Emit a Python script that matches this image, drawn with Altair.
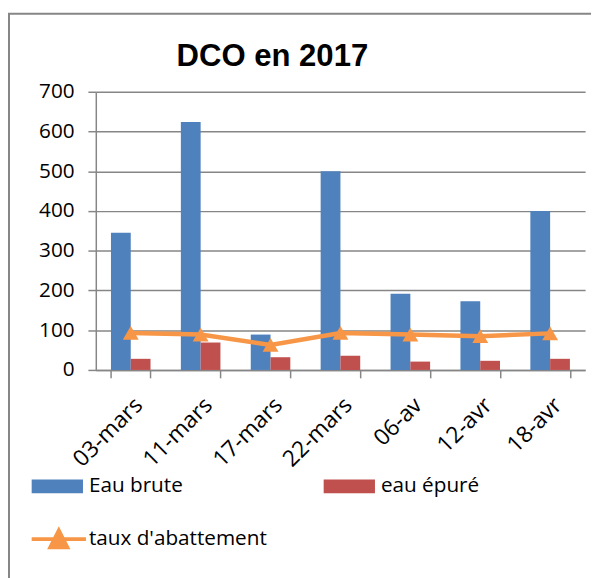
import altair as alt
import pandas as pd

dates = ["03-mars", "11-mars", "17-mars", "22-mars", "06-av", "12-avr", "18-avr"]
eau_brute = [345, 624, 89, 500, 192, 173, 400]
eau_epure = [28, 69, 32, 36, 21, 23, 28]
taux = [93, 89, 63, 93, 89, 85, 92]
bar_series = ["Eau brute", "eau épuré"]
line_series = "taux d'abattement"
y_ticks = [0, 100, 200, 300, 400, 500, 600, 700]
chart_title = "DCO en 2017"

BLUE, RED, ORANGE = "#4F81BD", "#C0504D", "#F79646"
GRID = "#868686"
FONT = "Open Sans"
TFONT = "Liberation Sans"

bars_df = pd.DataFrame({
    "date": dates * 2,
    "serie": [bar_series[0]] * len(dates) + [bar_series[1]] * len(dates),
    "valeur": eau_brute + eau_epure,
})
line_df = pd.DataFrame({"date": dates, "serie": line_series, "valeur": taux})

x_enc = alt.X(
    "date:N", sort=dates, title=None,
    scale=alt.Scale(paddingInner=0.434, paddingOuter=0.217),
    axis=alt.Axis(labelAngle=-45, labelFont=FONT, labelFontSize=23, labelColor="black",
                  tickBand="extent", tickSize=8, tickColor=GRID, tickWidth=1.5,
                  domainColor=GRID, domainWidth=1.5, labelPadding=16, grid=False),
)
y_enc = alt.Y(
    "valeur:Q", title=None,
    scale=alt.Scale(domain=[0, 700], nice=False),
    axis=alt.Axis(values=y_ticks, labelFont=FONT, labelFontSize=21, labelColor="black",
                  tickSize=8, tickColor=GRID, tickWidth=1.5, labelPadding=14,
                  domainColor=GRID, domainWidth=1.5,
                  grid=True, gridColor=GRID, gridWidth=1.5),
)

bars = alt.Chart(bars_df).mark_bar().encode(
    x=x_enc, y=y_enc,
    xOffset=alt.XOffset("serie:N", sort=bar_series,
                        scale=alt.Scale(paddingInner=0, paddingOuter=0)),
    color=alt.Color("serie:N", sort=bar_series,
                    scale=alt.Scale(domain=bar_series, range=[BLUE, RED]),
                    legend=alt.Legend(orient="none", legendX=-65, legendY=374,
                                      columns=2, columnPadding=142, title=None,
                                      symbolType="M-1,-0.27H1V0.27H-1Z", symbolSize=2704,
                                      symbolStrokeWidth=0, labelFont=FONT, labelLimit=400,
                                      labelFontSize=21, labelColor="black", labelOffset=6)),
)

line = alt.Chart(line_df).mark_line(strokeWidth=4.5).encode(
    x=alt.X("date:N", sort=dates), y="valeur:Q",
    stroke=alt.Stroke("serie:N",
                      scale=alt.Scale(domain=[line_series], range=[ORANGE]),
                      legend=alt.Legend(orient="none", legendX=-67, legendY=424, title=None,
                                        symbolType="M-1,0H1M-0.31,0.3L0,-0.31L0.31,0.3Z",
                                        symbolSize=3025, symbolStrokeWidth=4,
                                        symbolFillColor=ORANGE, labelFont=FONT,
                                        labelLimit=400,
                                        labelFontSize=21, labelColor="black", labelOffset=1)),
)

points = alt.Chart(line_df).mark_point(shape="triangle-up", filled=True, size=260,
                                       color=ORANGE, opacity=1).encode(
    x=alt.X("date:N", sort=dates), y="valeur:Q",
)

border = alt.Chart(alt.Data(values=[{}])).mark_rect(
    fill="transparent", stroke=GRID, strokeWidth=2
).encode(x=alt.value(-88), x2=alt.value(600), y=alt.value(-79), y2=alt.value(700))

title = alt.Chart(alt.Data(values=[{"t": chart_title}])).mark_text(
    font=TFONT, fontSize=31.5, fontWeight="bold", color="black",
    align="center", baseline="alphabetic"
).encode(text="t:N", x=alt.value(179), y=alt.value(-26))

chart = alt.layer(border, bars, line, points, title).properties(
    width=496, height=282,
    autosize=alt.AutoSizeParams(type="none"),
    padding={"left": 89, "top": 81, "right": 6, "bottom": 207},
).configure_view(stroke=None)

chart.save("out.html", embed_options={"renderer": "svg", "actions": False})
